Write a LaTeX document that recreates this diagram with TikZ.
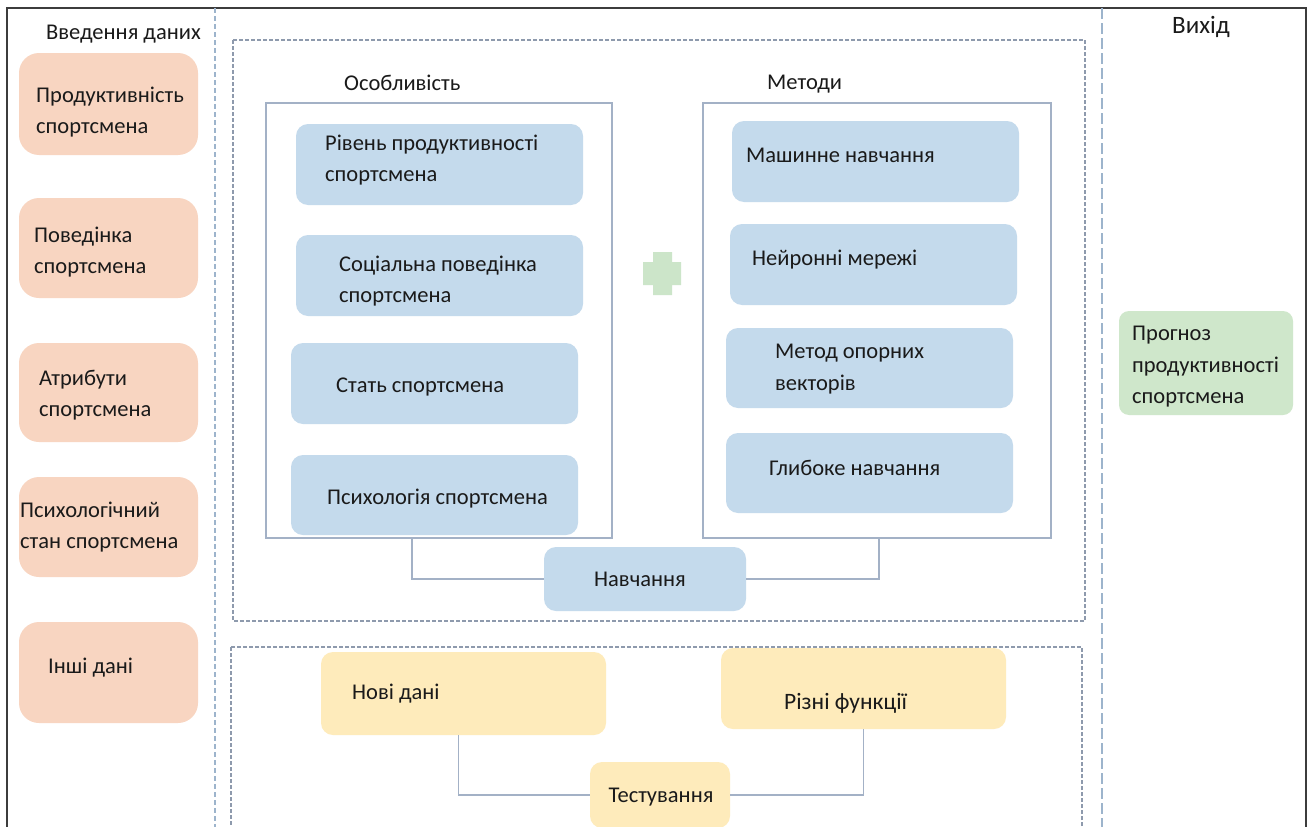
\documentclass[tikz,border=0pt]{standalone}
\usepackage{fontspec}
\setmainfont{Carlito}
\usetikzlibrary{fit}
\definecolor{peach}{HTML}{F8D5C1}
\definecolor{skyfill}{HTML}{C4DAEC}
\definecolor{sandfill}{HTML}{FEEBBB}
\definecolor{mintfill}{HTML}{CFE7CB}
\definecolor{plusgreen}{HTML}{CCE5C9}
\definecolor{ink}{HTML}{1A1A1A}
\definecolor{framedark}{HTML}{3C3C3C}
\definecolor{panelline}{HTML}{A3B1C6}
\definecolor{dashgray}{HTML}{8E9AAD}
\definecolor{dashblue}{HTML}{9DB4CC}
\begin{document}
\begin{tikzpicture}[x=1pt,y=-1pt,
  box/.style={inner sep=0pt, draw=none},
  inbox/.style={box, fill=peach, rounded corners=20pt},
  bluebox/.style={box, fill=skyfill, rounded corners=12pt},
  sandbox/.style={box, fill=sandfill, rounded corners=12pt},
  mintbox/.style={box, fill=mintfill, rounded corners=10pt},
  panel/.style={inner sep=0pt, draw=panelline, line width=1.3pt},
  txt/.style={font=\fontsize{22.5pt}{31.5pt}\selectfont, text=ink, inner sep=0pt, align=left, anchor=west},
  ctxt/.style={txt, anchor=center, align=center},
  conn/.style={draw=panelline, line width=1.4pt},
  groupframe/.style={draw=dashgray, line width=1.1pt, dash pattern=on 4pt off 2pt},
]
\useasboundingbox (0,0) rectangle (1312,827);
\clip (0,0) rectangle (1312,827);
\fill[white] (0,0) rectangle (1312,827);

% outer frame (open at the bottom)
\draw[framedark, line width=2pt] (7,840) -- (7,8) -- (1306,8) -- (1306,840);

% column dividers
\draw[dashblue, line width=1.2pt, dash pattern=on 5pt off 3pt] (215,8) -- (215,840);
\draw[dashblue, line width=2.4pt, dash pattern=on 11pt off 4pt] (1102,8) -- (1102,840);

% group frames
\draw[groupframe] (233,40) rectangle (1085,621);
\draw[groupframe] (231,647) rectangle (1082,860);

% ---------- input column ----------
\node[txt] (inhead) at (46,34) {Введення даних};
\node[inbox, fit={(19,53) (198,155)}] (in1) {};
\node[inbox, fit={(19,198) (198,298)}] (in2) {};
\node[inbox, fit={(19,343) (198,442)}] (in3) {};
\node[inbox, fit={(19,477) (198,577)}] (in4) {};
\node[inbox, fit={(19,622) (198,723)}] (in5) {};
\node[txt] (in1t) at (36,112) {Продуктивність\\спортсмена};
\node[txt] (in2t) at (34,252) {Поведінка\\спортсмена};
\node[txt] (in3t) at (39,395) {Атрибути\\спортсмена};
\node[txt] (in4t) at (20,527) {Психологічний\\стан спортсмена};
\node[txt] (in5t) at (48,668) {Інші дані};

% ---------- features panel ----------
\node[txt] (feathead) at (344,83) {Особливість};
\node[panel, fit={(266,103) (612,538)}] (feat) {};
\node[bluebox, fit={(296,124) (583,205)}] (f1) {};
\node[bluebox, fit={(296,235) (583,316)}] (f2) {};
\node[bluebox, fit={(291,343) (578,424)}] (f3) {};
\node[bluebox, fit={(291,455) (578,535)}] (f4) {};
\node[txt] (f1t) at (325,160) {Рівень продуктивності\\спортсмена};
\node[txt] (f2t) at (339,281) {Соціальна поведінка\\спортсмена};
\node[txt] (f3t) at (336,387) {Стать спортсмена};
\node[txt] (f4t) at (327,499) {Психологія спортсмена};

% ---------- methods panel ----------
\node[txt] (methhead) at (767,84) {Методи};
\node[panel, fit={(703,103) (1051,538)}] (meth) {};
\node[bluebox, fit={(732,121) (1019,202)}] (m1) {};
\node[bluebox, fit={(730,224) (1017,305)}] (m2) {};
\node[bluebox, fit={(726,328) (1013,408)}] (m3) {};
\node[bluebox, fit={(726,433) (1013,513)}] (m4) {};
\node[txt] (m1t) at (746,155) {Машинне навчання};
\node[txt] (m2t) at (752,260) {Нейронні мережі};
\node[txt] (m3t) at (775,369) {Метод опорних\\векторів};
\node[txt] (m4t) at (769,468) {Глибоке навчання};

% plus sign between the panels
\fill[plusgreen] (653,252) -- (672,252) -- (672,262) -- (681,262) -- (681,285)
  -- (672,285) -- (672,295) -- (653,295) -- (653,285) -- (643,285) -- (643,262)
  -- (653,262) -- cycle;

% training
\node[bluebox, fit={(544,547) (746,611)}] (train) {};
\node[ctxt] (traint) at (640,579) {Навчання};
\draw[conn] ([xshift=-27pt]feat.south) |- (train.west);
\draw[conn] (train.east) -| ([xshift=2pt]meth.south);

% ---------- testing ----------
\node[sandbox, fit={(321,652) (606,735)}] (nd) {};
\node[sandbox, fit={(721,648) (1006,729)}] (rf) {};
\node[sandbox, fit={(590,762) (730,828)}] (test) {};
\node[txt] (ndt) at (352,694) {Нові дані};
\node[txt, font=\fontsize{23.5pt}{31.5pt}\selectfont] (rft) at (784,703) {Різні функції};
\node[ctxt] (testt) at (661,797) {Тестування};
\draw[conn] ([xshift=-5pt]nd.south) |- (test.west);
\draw[conn] (test.east) -| (rf.south);

% ---------- output column ----------
\node[txt, font=\fontsize{25pt}{31.5pt}\selectfont] (outhead) at (1172,27) {Вихід};
\node[mintbox, fit={(1119,311) (1293,415)}] (out) {};
\node[txt] (outt) at (1132,367) {Прогноз\\продуктивності\\спортсмена};
\end{tikzpicture}
\end{document}
